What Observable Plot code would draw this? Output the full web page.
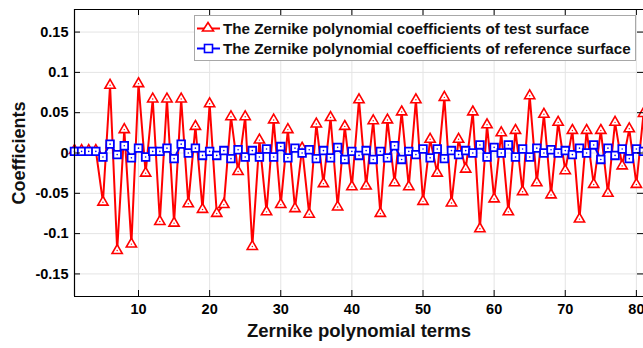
<!DOCTYPE html>
<html><head><meta charset="utf-8">
<script src="https://cdn.jsdelivr.net/npm/d3@7"></script>
<script src="https://cdn.jsdelivr.net/npm/@observablehq/plot@0.6"></script>
<style>
html,body{margin:0;padding:0;background:#fff;}
#wrap{position:relative;width:643px;height:348px;overflow:hidden;font-family:"Liberation Sans",Arial,sans-serif;}
#legend{position:absolute;left:194px;top:15px;width:442px;height:46px;background:#fff;border:1px solid #a8a8a8;box-sizing:border-box;}
.lrow{position:absolute;left:0;height:20px;display:flex;align-items:center;font-weight:bold;font-size:15.2px;color:#111;white-space:nowrap;}
.lrow svg{margin-left:2px;margin-right:3px;}
</style></head><body><div id="wrap"></div>
<script>
const terms = [1,2,3,4,5,6,7,8,9,10,11,12,13,14,15,16,17,18,19,20,21,22,23,24,25,26,27,28,29,30,31,32,33,34,35,36,37,38,39,40,41,42,43,44,45,46,47,48,49,50,51,52,53,54,55,56,57,58,59,60,61,62,63,64,65,66,67,68,69,70,71,72,73,74,75,76,77,78,79,80,81];
const testCoef = [0.003,0.003,0.003,0.003,-0.061,0.084,-0.121,0.029,-0.113,0.086,
  -0.025,0.067,-0.085,0.067,-0.087,0.067,-0.063,0.033,-0.070,0.061,
  -0.075,-0.064,0.045,-0.023,0.045,-0.116,0.016,-0.073,0.041,-0.064,
  0.029,-0.069,0.006,-0.076,0.036,-0.038,0.044,-0.067,0.033,-0.042,
  0.066,-0.041,0.040,-0.075,0.041,-0.037,0.051,-0.042,0.066,-0.060,
  0.017,-0.025,0.069,-0.062,0.017,-0.020,0.051,-0.094,0.035,-0.057,
  0.025,-0.073,0.028,-0.048,0.071,-0.037,0.048,-0.052,0.038,-0.022,
  0.028,-0.082,0.028,-0.039,0.028,-0.050,0.038,-0.016,0.030,-0.039,0.049];
const refCoef = [0.002,0.002,0.002,0.002,-0.005,0.011,-0.002,0.009,-0.006,0.006,
  -0.005,0.002,0.002,0.006,-0.007,0.011,0.000,0.006,-0.003,0.002,
  -0.003,0.003,-0.007,0.004,-0.005,0.003,-0.005,0.005,-0.005,0.008,
  -0.006,0.006,0.000,0.004,-0.007,0.003,-0.006,0.007,-0.008,0.002,
  -0.003,0.003,-0.008,0.002,-0.006,0.009,-0.008,0.002,-0.002,0.005,
  -0.006,0.005,-0.007,0.003,-0.002,0.003,0.000,0.010,-0.005,0.007,
  0.000,0.010,-0.005,0.005,-0.005,0.006,0.000,0.004,0.000,0.003,
  -0.002,0.006,0.000,0.010,-0.008,0.006,-0.003,0.005,-0.007,0.005,0.002];
const xTicks = [10,20,30,40,50,60,70,80];
const yTicks = [-0.15,-0.1,-0.05,0,0.05,0.1,0.15];
const yTickLabels = ["-0.15","-0.1","-0.05","0","0.05","0.1","0.15"];
const seriesNames = ["The Zernike polynomial coefficients of test surface","The Zernike polynomial coefficients of reference surface"];
const seriesColors = ["#ff0000","#0000ff"];
const xLabel = "Zernike polynomial terms";
const yLabel = "Coefficients";

const xDom = [1, 81], yDom = [-0.178, 0.178];
const W = 643, H = 348, mL = 74, mR = 0, mT = 9, mB = 52;
const pxX = (xDom[1]-xDom[0])/(W-mL-mR), pxY = (yDom[1]-yDom[0])/(H-mT-mB);
const tl = 6;

const testRows = terms.map((t,i)=>({term:t, value:testCoef[i]}));
const refRows = terms.map((t,i)=>({term:t, value:refCoef[i]}));
const fmtY = d => yTickLabels[yTicks.indexOf(d)];

const chart = Plot.plot({
  width: W, height: H, marginLeft: mL, marginRight: mR, marginTop: mT, marginBottom: mB,
  style: {fontFamily: "'Liberation Sans', Arial, sans-serif", fontWeight: "bold", fontSize: "14px", color: "#000", background: "#fff", overflow: "hidden"},
  x: {domain: xDom},
  y: {domain: yDom},
  marks: [
    Plot.gridX(xTicks, {stroke: "#e4e4e4", strokeOpacity: 1}),
    Plot.gridY(yTicks, {stroke: "#e4e4e4", strokeOpacity: 1}),
    Plot.line(testRows, {x: "term", y: "value", stroke: seriesColors[0], strokeWidth: 2}),
    Plot.dot(testRows, {x: "term", y: "value", symbol: "triangle", r: 3.8, stroke: seriesColors[0], strokeWidth: 1.6, fill: "#fff"}),
    Plot.dot(testRows, {x: "term", y: "value", r: 0.7, fill: seriesColors[0], stroke: null}),
    Plot.line(refRows, {x: "term", y: "value", stroke: seriesColors[1], strokeWidth: 2}),
    Plot.dot(refRows, {x: "term", y: "value", symbol: "square", r: 4.3, stroke: seriesColors[1], strokeWidth: 1.8, fill: "#fff"}),
    Plot.dot(refRows, {x: "term", y: "value", r: 0.8, fill: seriesColors[1], stroke: null}),
    // axis box lines
    Plot.ruleX([xDom[0]], {stroke: "#000", strokeWidth: 1.2}),
    Plot.ruleY([yDom[0]], {stroke: "#000", strokeWidth: 1.2}),
    Plot.ruleY([yDom[1]], {stroke: "#000", strokeWidth: 1}),
    // inward ticks
    Plot.ruleX(xTicks, {y1: yDom[0], y2: yDom[0] + tl*pxY, stroke: "#000"}),
    Plot.ruleX(xTicks, {y1: yDom[1], y2: yDom[1] - tl*pxY, stroke: "#000"}),
    Plot.ruleY(yTicks, {x1: xDom[0], x2: xDom[0] + tl*pxX, stroke: "#000"}),
    Plot.ruleY(yTicks, {x1: xDom[1], x2: xDom[1] - tl*pxX, stroke: "#000"}),
    // tick labels
    Plot.axisX(xTicks, {anchor: "bottom", tickSize: 0, tickPadding: 7, fontSize: 14.5, fontWeight: "bold", label: null}),
    Plot.axisY(yTicks, {anchor: "left", tickSize: 0, tickPadding: 6, tickFormat: fmtY, fontSize: 14.5, fontWeight: "bold", label: null}),
    // axis titles
    Plot.text([xLabel], {frameAnchor: "bottom", dy: 40, fontSize: 18.5, fontWeight: "bold", fill: "#111", lineAnchor: "bottom"}),
    Plot.text([yLabel], {frameAnchor: "left", dx: -55, rotate: -90, fontSize: 18, fontWeight: "bold", fill: "#111", textAnchor: "middle"})
  ]
});

const wrap = document.getElementById("wrap");
wrap.appendChild(chart);

const legend = document.createElement("div");
legend.id = "legend";
const symbols = [
  `<path d="M5 2 L10.5 10.5 L-0.5 10.5 Z" transform="translate(6,-0.5)" fill="#fff" stroke="${seriesColors[0]}" stroke-width="1.6"/>`,
  `<rect x="7.5" y="3.5" width="8" height="8" fill="#fff" stroke="${seriesColors[1]}" stroke-width="1.6"/>`
];
seriesNames.forEach((name, i) => {
  const row = document.createElement("div");
  row.className = "lrow";
  row.style.top = (i*20 + 2) + "px";
  row.innerHTML = `<svg width="23" height="15" viewBox="0 0 23 15"><line x1="0" y1="7.5" x2="23" y2="7.5" stroke="${seriesColors[i]}" stroke-width="2"/>${symbols[i]}</svg><span>${name}</span>`;
  legend.appendChild(row);
});
wrap.appendChild(legend);
</script>
</body></html>
